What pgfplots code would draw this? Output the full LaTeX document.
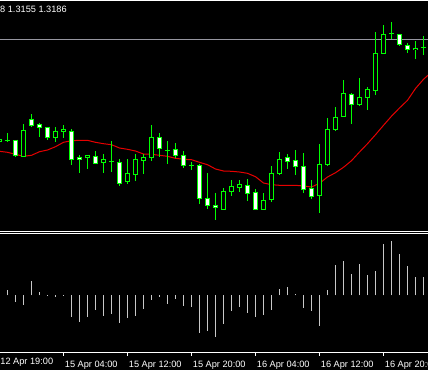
\documentclass[border=0pt]{standalone}
\usepackage{pgfplots}
\pgfplotsset{compat=1.18}
\usepackage{pgfplotstable}
\usepackage{fontspec}
\setmainfont{Liberation Sans}
\definecolor{mtgreen}{RGB}{0,255,0}
\definecolor{mtred}{RGB}{230,0,0}
\definecolor{mtgray}{RGB}{150,150,160}
\definecolor{mtsilver}{RGB}{200,200,200}

% bullish (hollow) candles: k, high row, low row, body top row, body bottom row
\pgfplotstableread{
k h l t b
0 137 144 139.3 141.7
1 133 142 140 140
3 124 156.7 130 156.7
7 127.3 142 131 137.7
8 125 138 129 131.7
11 155.3 169 155.3 157.7
13 154 172.7 159.3 162.7
14 141 172 161 161
16 159 183.7 173 181.7
17 154 180.7 159 174.7
18 154.3 173.7 157.3 160.7
19 125 160.7 137.3 157.7
21 141 164 150 150
24 162 170 165.7 165.7
28 188 209 191 209
29 180 196 186.3 191.7
30 180 192 184 187.7
33 193.3 210 200.3 209
34 166 201.7 173.3 199.7
35 152 175 159.3 173.7
40 144 213 164 195.7
41 118.3 165.7 129.3 164.7
42 107 131 117.3 129.7
43 80 116.7 93.3 116.3
45 78 105.7 97.3 104.7
46 87.3 109.7 89.3 97.7
47 32.3 94.7 53.3 90.7
48 25 54 34.3 53.3
49 22 39.3 33.3 33.3
52 41 58.7 48.3 49.7
53 36 55 47.3 47.3
}\bull

% bearish (white) candles
\pgfplotstableread{
k h l t b
2 140 156.7 140 155.7
4 114 127.3 119 125
5 123.3 136.7 124 127.3
6 127 139.7 127 137.7
9 129 165 131 159.7
10 155 172.7 157 159.7
12 151 163.7 156.3 163.3
15 159 185.7 162.3 183.3
20 133 156.7 137.3 148.7
22 143 158 149.3 155.3
23 151 167.7 155.3 165.3
25 163.7 203.7 165.3 198.7
26 173.3 208.7 198 205.7
27 192.7 220.3 205.2 207.5
31 179 200.7 185.3 193.7
32 189 209.7 192 209.7
36 154 168.7 157.3 161.7
37 150 175 160.3 166.7
38 153 192.7 166.3 189.7
39 180 199 188.3 196.7
44 93 123.7 94 104.3
50 34.3 45.7 34.3 44.3
51 43.3 52.7 45.7 49.3
}\bear

% moving average (row)
\pgfplotstableread{
k m
-0.5 151
0 151.3
1 152.3
2 154.3
3 156.3
4 155.3
5 151.7
6 150
7 146.7
8 142.3
9 140.7
10 140.3
11 140.3
12 142.3
13 143.7
14 144.7
15 148
16 149.3
17 151
18 154
19 154.3
20 155.3
21 156.3
22 158.3
23 159.3
24 159.7
25 162.3
26 164.7
27 169
28 171
29 171.3
30 172
31 173.3
32 176.7
33 183
34 184.7
35 185.3
36 185.3
37 185.3
38 186
39 187
40 183.3
41 177
42 172.7
43 167.3
44 160.7
45 152
46 143.7
47 134.7
48 125.3
49 116.2
50 108
51 100.3
52 88.5
53 79.3
53.6 75
}\ma

% oscillator histogram
\pgfplotstableread{
k v
1 5.3
2 -6.4
3 -9.7
4 14.3
5 3.3
6 -0.7
7 -1.7
8 -0.7
9 -21.4
10 -26.4
11 -21.4
12 -14.7
13 -20.4
14 -18.7
15 -27.4
16 -22.4
17 -20.4
18 -13.4
19 -4.7
20 -1.7
21 -8.4
22 -3.7
23 -10.7
24 -11.4
25 -37.4
26 -35.7
27 -41.4
28 -28.7
29 -15.4
30 -11.4
31 -17.7
32 -21.4
33 -19.4
34 -14.7
35 6.3
36 8.3
37 1.3
38 -12.4
39 -15.4
40 -30.4
41 5.3
42 30.3
43 34.3
44 21.3
45 31.3
46 20.3
47 24.3
48 51.3
49 54.3
50 41.3
51 29.3
52 18.3
53 18.3
}\osc

\pgfplotsset{
  wick/.style={mtgreen, line width=1bp, line cap=butt, -, mark=none,
    quiver={u value=0, v={\thisrow{l}-\thisrow{h}}}},
  bodyline/.style={mtgreen, line width=5bp, line cap=butt, -, mark=none,
    quiver={u value=0, v={\thisrow{b}-\thisrow{t}+1}}},
  bodyfill/.style={#1, line width=3bp, line cap=butt, -, mark=none,
    quiver={u value=0, v={max(\thisrow{b}-\thisrow{t}-1,0)}}},
}

\begin{document}
\begin{tikzpicture}
\fill[black] (0bp,0bp) rectangle (428bp,-370bp);
\begin{axis}[at={(0bp,-0.5bp)}, anchor=north west, scale only axis,
  width=428bp, height=231bp,
  xmin=0.0625, xmax=53.5625, ymin=0.5, ymax=231.5, y dir=reverse,
  axis x line*=box, axis y line=none,
  x axis line style={white, line width=1bp},
  xtick=\empty, ytick=\empty]
\addplot[mtgray, line width=1bp] coordinates {(-1,39.5) (60,39.5)};
\addplot[mtred, line width=1bp] table[x=k, y=m] {\ma};
\addplot[wick] table[x=k, y=h] {\bull};
\addplot[wick] table[x=k, y=h] {\bear};
\addplot[bodyline] table[x=k, y expr={\thisrow{t}-0.5}] {\bull};
\addplot[bodyline] table[x=k, y expr={\thisrow{t}-0.5}] {\bear};
\addplot[bodyfill=black] table[x=k, y expr={\thisrow{t}+0.5}] {\bull};
\addplot[bodyfill=white] table[x=k, y expr={\thisrow{t}+0.5}] {\bear};
\end{axis}
\begin{axis}[at={(0bp,-233.5bp)}, anchor=north west, scale only axis,
  width=428bp, height=119bp,
  xmin=0.0625, xmax=53.5625, ymin=-57.2, ymax=61.8,
  axis x line*=box, axis y line=none,
  x axis line style={white, line width=1bp},
  ytick=\empty,
  xtick={8,16,24,32,40,48},
  xticklabels={15 Apr 04:00,15 Apr 12:00,15 Apr 20:00,16 Apr 04:00,16 Apr 12:00,16 Apr 20:00},
  extra x ticks={0.07}, extra x tick labels={12 Apr 19:00},
  extra x tick style={major tick length=0bp, xticklabel style={xshift=-1bp}},
  xtick pos=left, tick align=outside, major tick length=3bp,
  xtick style={white, line width=1bp},
  xticklabel style={text=white, font=\fontsize{9.2bp}{10bp}\selectfont, anchor=base west, inner sep=0bp, xshift=1.2bp, yshift=-12bp}]
\addplot[ycomb, mtsilver, line width=1bp, mark=none] table[x=k, y=v] {\osc};
\end{axis}
\node[anchor=base west, inner sep=0bp, text=white, font=\fontsize{9.2bp}{10bp}\selectfont] at (0bp,-12bp) {8 1.3155 1.3186};
\pgfresetboundingbox
\path (0bp,0bp) rectangle (428bp,-370bp);
\end{tikzpicture}
\end{document}
